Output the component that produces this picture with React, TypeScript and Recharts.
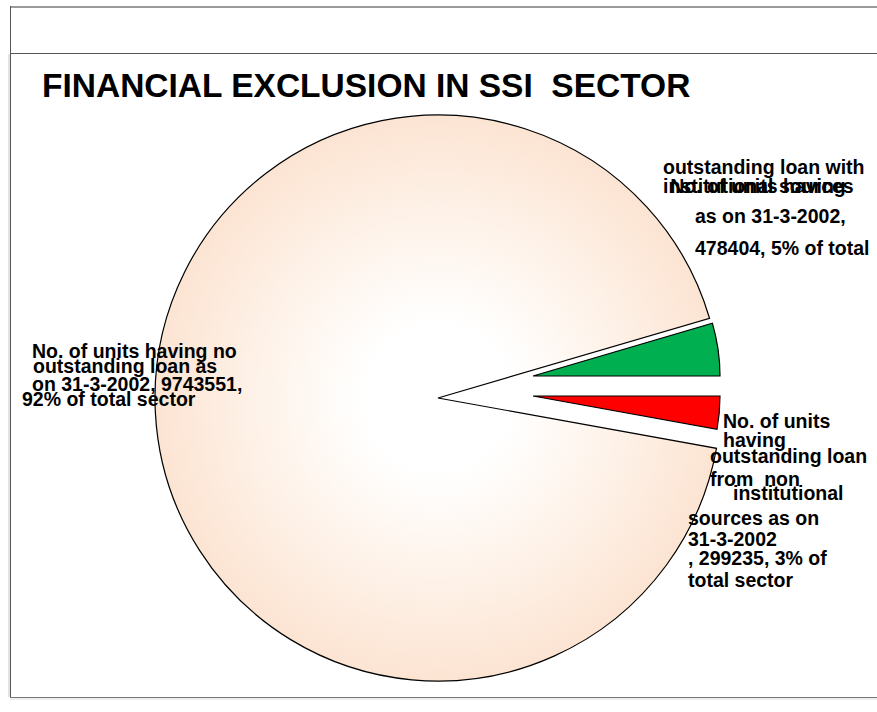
import React from "react";
import { PieChart, Pie, Cell } from "recharts";

// slices in drawing order (counter-clockwise from 3 o'clock)
const NAMES = [
  "Units with loan from institutional sources",
  "Units having no outstanding loan",
  "Units with loan from non institutional sources",
];
const VALUES = [478404, 9743551, 299235];
const PERCENTS = [5, 92, 3];
const AS_ON = "31-3-2002";
const TITLE = "FINANCIAL EXCLUSION IN SSI  SECTOR";

const LABEL_LINES = [
  [
    "outstanding loan with",
    "No. of units having",
    "institutional sources",
    `as on ${AS_ON},`,
    `${VALUES[0]}, ${PERCENTS[0]}% of total`,
  ],
  [
    "No. of units having no",
    "outstanding loan as",
    `on ${AS_ON}, ${VALUES[1]},`,
    `${PERCENTS[1]}% of total sector`,
  ],
  [
    "No. of units",
    "having",
    "outstanding loan",
    "from  non",
    "institutional",
    "sources as on",
    AS_ON,
    `, ${VALUES[2]}, ${PERCENTS[2]}% of`,
    "total sector",
  ],
];

const COLORS = ["#00B050", "url(#peachFill)", "#FF0000"];

// where each line of each label sits: [x, baseline, anchor]
const LABEL_POS: [number, number, string][][] = [
  [
    [663, 174, "start"],
    [758, 193, "middle"],
    [663, 193, "start"],
    [695, 223, "start"],
    [695, 255, "start"],
  ],
  [
    [32, 358, "start"],
    [33, 373, "start"],
    [32, 391, "start"],
    [22, 406, "start"],
  ],
  [
    [723, 428, "start"],
    [723, 447, "start"],
    [710, 463, "start"],
    [710, 486, "start"],
    [733, 500, "start"],
    [688, 525, "start"],
    [688, 546, "start"],
    [688, 565, "start"],
    [688, 587, "start"],
  ],
];

// exploded pieces: each slice gets its own centre / radius
const PIECES = [
  { idx: 1, cx: 438, cy: 398, r: 283 },
  { idx: 0, cx: 533, cy: 376, r: 187 },
  { idx: 2, cx: 533, cy: 396, r: 187 },
];

const FONT = "'Liberation Sans', Arial, sans-serif";

const data = NAMES.map((name, i) => ({ name, value: VALUES[i] }));

function renderLabel(visible: number) {
  return (props: any) => {
    if (props.index !== visible) return null;
    return (
      <g>
        {LABEL_LINES[visible].map((line, j) => {
          const [x, y, anchor] = LABEL_POS[visible][j];
          return (
            <text
              key={j}
              x={x}
              y={y}
              textAnchor={anchor as any}
              fontFamily={FONT}
              fontWeight="bold"
              fontSize={19.5}
              fill="#000"
              style={{ whiteSpace: "pre" }}
            >
              {line}
            </text>
          );
        })}
      </g>
    );
  };
}

export default function App() {
  return (
    <div style={{ position: "absolute", left: 0, top: 0, width: 877, height: 712, background: "#fff" }}>
      <svg width={877} height={712} style={{ position: "absolute", left: 0, top: 0 }}>
        <line x1={10} y1={7} x2={877} y2={7} stroke="#9a9a9a" strokeWidth={2} />
        <line x1={10} y1={53.5} x2={877} y2={53.5} stroke="#555" strokeWidth={1} />
        <line x1={10.5} y1={6} x2={10.5} y2={697} stroke="#555" strokeWidth={1} />
        <line x1={9} y1={54} x2={9} y2={697} stroke="#c8c8c8" strokeWidth={1} />
        <line x1={10} y1={697.5} x2={877} y2={697.5} stroke="#777" strokeWidth={1} />
        <line x1={10} y1={699} x2={877} y2={699} stroke="#ddd" strokeWidth={1} />
        <text
          x={42}
          y={97}
          fontFamily={FONT}
          fontWeight="bold"
          fontSize={33.5}
          fill="#000"
          style={{ whiteSpace: "pre" }}
        >
          {TITLE}
        </text>
      </svg>
      <div style={{ position: "absolute", left: 0, top: 0 }}>
        <PieChart width={877} height={712} margin={{ top: 0, right: 0, bottom: 0, left: 0 }}>
          <defs>
            <radialGradient id="peachFill" gradientUnits="userSpaceOnUse" cx={438} cy={398} r={290}>
              <stop offset="0%" stopColor="#ffffff" />
              <stop offset="25%" stopColor="#ffffff" />
              <stop offset="60%" stopColor="#fef3ea" />
              <stop offset="100%" stopColor="#fce3d1" />
            </radialGradient>
          </defs>
          {PIECES.map((p) => (
            <Pie
              key={p.idx}
              data={data}
              dataKey="value"
              nameKey="name"
              cx={p.cx}
              cy={p.cy}
              innerRadius={0}
              outerRadius={p.r}
              startAngle={0}
              endAngle={360}
              isAnimationActive={false}
              label={renderLabel(p.idx)}
              labelLine={false}
            >
              {data.map((_, i) => (
                <Cell
                  key={i}
                  fill={i === p.idx ? COLORS[i] : "none"}
                  stroke={i === p.idx ? "#000" : "none"}
                  strokeWidth={1.2}
                />
              ))}
            </Pie>
          ))}
        </PieChart>
      </div>
    </div>
  );
}
